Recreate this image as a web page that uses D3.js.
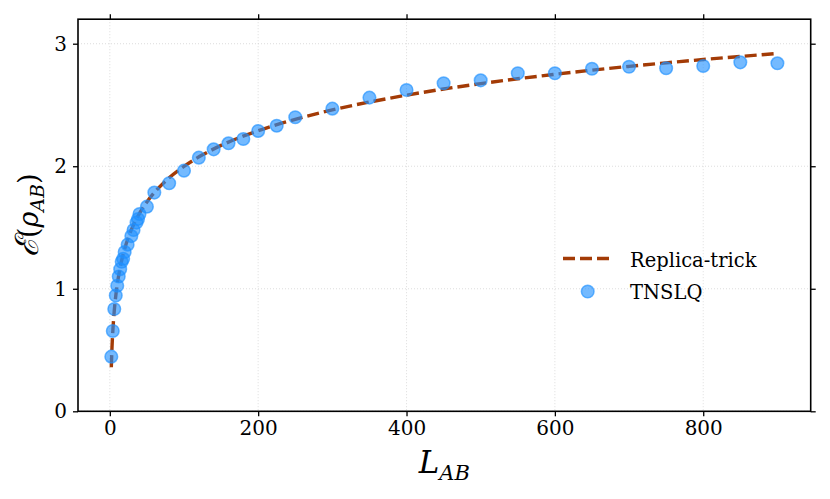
<!DOCTYPE html>
<html>
<head>
<meta charset="utf-8">
<script src="https://cdn.jsdelivr.net/npm/d3@7/dist/d3.min.js"></script>
<style>
  html, body { margin: 0; padding: 0; background: #fff; }
  svg { display: block; }
  text { font-family: "DejaVu Serif", "Liberation Serif", serif; fill: #000; }
</style>
</head>
<body>
<svg id="chart" width="830" height="499"></svg>
<script>
// ---- data ----
const tnslqL = [2,4,6,8,10,12,14,16,18,20,24,29,32,36,38,40,50,60,80,100,120,140,160,180,200,225,250,300,350,400,450,500,550,600,650,700,750,800,850,900];
const tnslqE = [0.446,0.655,0.835,0.945,1.025,1.10,1.16,1.22,1.245,1.30,1.36,1.43,1.48,1.54,1.57,1.61,1.67,1.785,1.861,1.964,2.07,2.138,2.187,2.222,2.288,2.331,2.40,2.47,2.56,2.622,2.677,2.701,2.759,2.759,2.796,2.812,2.80,2.818,2.848,2.84];

const replicaL = [2,3,4,5,6,8,10,12,15,20,25,30,40,50,60,80,100,125,150,200,250,300,350,400,450,500,550,600,650,700,750,800,850,900];
const replicaE = [0.360,0.530,0.651,0.744,0.821,0.941,1.035,1.111,1.205,1.325,1.419,1.495,1.616,1.709,1.785,1.906,1.999,2.093,2.170,2.290,2.383,2.460,2.524,2.580,2.630,2.674,2.714,2.750,2.784,2.815,2.844,2.871,2.896,2.920];

const xTicks = [0,200,400,600,800];
const yTicks = [0,1,2,3];
const seriesNames = ["Replica-trick", "TNSLQ"];

// ---- layout ----
const W = 830, H = 499;
const plot = { left: 78, right: 810.7, top: 19.2, bottom: 411.3 };
const lineColor = "#a33b06";
const dotColor = "#1e90ff";

const svg = d3.select("#chart");

const x = d3.scaleLinear().domain([-42.9, 944.9]).range([plot.left, plot.right]);
const y = d3.scaleLinear().domain([0, 3.2]).range([plot.bottom, plot.top]);

// grid
const grid = svg.append("g").attr("class", "grid");
grid.selectAll("line.gx").data(xTicks).join("line")
  .attr("x1", d => x(d)).attr("x2", d => x(d))
  .attr("y1", plot.top).attr("y2", plot.bottom)
  .attr("stroke", "#d4d4d4").attr("stroke-width", 0.8).attr("stroke-dasharray", "1,2");
grid.selectAll("line.gy").data(yTicks).join("line")
  .attr("y1", d => y(d)).attr("y2", d => y(d))
  .attr("x1", plot.left).attr("x2", plot.right)
  .attr("stroke", "#d4d4d4").attr("stroke-width", 0.8).attr("stroke-dasharray", "1,2");

// replica-trick dashed line
const lineData = replicaL.map((l, i) => [l, replicaE[i]]);
const lineGen = d3.line().x(d => x(d[0])).y(d => y(d[1])).curve(d3.curveMonotoneX);
svg.append("path").datum(lineData)
  .attr("d", lineGen)
  .attr("fill", "none")
  .attr("stroke", lineColor)
  .attr("stroke-width", 3.4)
  .attr("stroke-dasharray", "12,5");

// TNSLQ points
const pts = tnslqL.map((l, i) => [l, tnslqE[i]]);
svg.append("g").selectAll("circle").data(pts).join("circle")
  .attr("cx", d => x(d[0])).attr("cy", d => y(d[1]))
  .attr("r", 6.3)
  .attr("fill", dotColor).attr("fill-opacity", 0.62)
  .attr("stroke", dotColor).attr("stroke-opacity", 0.65).attr("stroke-width", 1.5);

// axes
const tickFont = 20;
const xAxisB = d3.axisBottom(x).tickValues(xTicks).tickSize(5).tickPadding(5).tickFormat(d3.format("d"));
const xAxisT = d3.axisTop(x).tickValues(xTicks).tickSize(5).tickFormat("");
const yAxisL = d3.axisLeft(y).tickValues(yTicks).tickSize(5).tickPadding(6).tickFormat(d3.format("d"));
const yAxisR = d3.axisRight(y).tickValues(yTicks).tickSize(5).tickFormat("");

function styleAxis(g) {
  g.select(".domain").remove();
  g.selectAll(".tick line").attr("stroke", "#000").attr("stroke-width", 1.3);
  g.selectAll(".tick text").attr("font-family", "DejaVu Serif, serif").attr("font-size", tickFont).attr("fill", "#000");
}
svg.append("g").attr("transform", `translate(0,${plot.bottom})`).call(xAxisB).call(styleAxis);
svg.append("g").attr("transform", `translate(0,${plot.top})`).call(xAxisT).call(styleAxis);
svg.append("g").attr("transform", `translate(${plot.left},0)`).call(yAxisL).call(styleAxis);
svg.append("g").attr("transform", `translate(${plot.right},0)`).call(yAxisR).call(styleAxis);

// frame
svg.append("rect")
  .attr("x", plot.left).attr("y", plot.top)
  .attr("width", plot.right - plot.left).attr("height", plot.bottom - plot.top)
  .attr("fill", "none").attr("stroke", "#000").attr("stroke-width", 1.6);

// x label
const xl = svg.append("text")
  .attr("x", (plot.left + plot.right) / 2).attr("y", 473)
  .attr("text-anchor", "middle")
  .attr("font-style", "italic");
xl.append("tspan").attr("font-size", 31).text("L");
xl.append("tspan").attr("font-size", 21).attr("dy", 7).text("AB");

// y label
const yl = svg.append("text")
  .attr("transform", `translate(38,${(plot.top + plot.bottom) / 2}) rotate(-90)`)
  .attr("text-anchor", "middle");
yl.append("tspan").attr("font-size", 32).attr("font-style", "italic").text("ℰ");
yl.append("tspan").attr("font-size", 27).text("(");
yl.append("tspan").attr("font-size", 27).attr("font-style", "italic").text("ρ");
yl.append("tspan").attr("font-size", 19).attr("font-style", "italic").attr("dy", 6).text("AB");
yl.append("tspan").attr("font-size", 27).attr("dy", -6).text(")");

// legend
const leg = svg.append("g").attr("class", "legend");
leg.append("line")
  .attr("x1", 563).attr("x2", 610).attr("y1", 258.5).attr("y2", 258.5)
  .attr("stroke", lineColor).attr("stroke-width", 3.4).attr("stroke-dasharray", "12,5");
leg.append("text").attr("x", 630).attr("y", 266.5).attr("font-size", 19.5).text(seriesNames[0]);
leg.append("circle").attr("cx", 587.7).attr("cy", 291.5).attr("r", 6.3)
  .attr("fill", dotColor).attr("fill-opacity", 0.62)
  .attr("stroke", dotColor).attr("stroke-opacity", 0.65).attr("stroke-width", 1.5);
leg.append("text").attr("x", 630).attr("y", 299).attr("font-size", 19.5).text(seriesNames[1]);
</script>
</body>
</html>
